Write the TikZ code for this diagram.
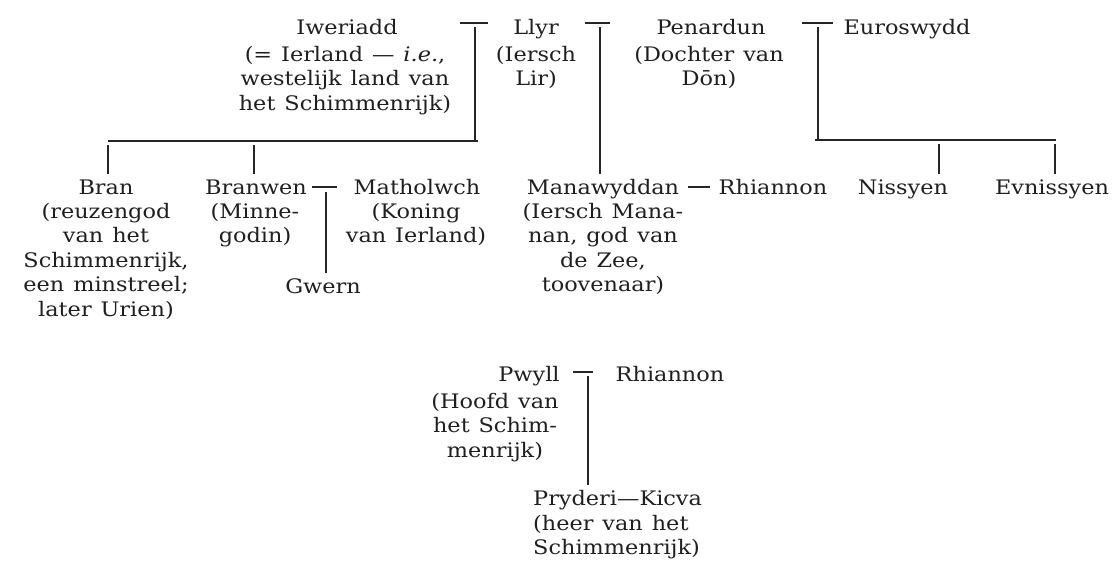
\documentclass[tikz,border=0pt]{standalone}
\usepackage{fontspec}
\setmainfont{DejaVu Serif}[FakeStretch=1.12,WordSpace=1.25]
\usetikzlibrary{calc}
\begin{document}
\begin{tikzpicture}[x=1pt,y=-1pt,
  every node/.style={font=\fontsize{20}{24.5}\selectfont, text=black!88},
  pname/.style={anchor=base, inner xsep=2pt, inner ysep=5pt},
  desc/.style={anchor=north, align=center, inner sep=0pt},
  descl/.style={anchor=north west, align=left, inner sep=0pt},
  link/.style={draw=black!85, line width=1.1pt}]
\useasboundingbox (0,0) rectangle (1116,560);
% ---- top generation
\node[pname] (iwer) at (347,34) {Iweriadd};
\node[desc] (iwerD) at (345,46) {(= Ierland — \textit{i.e.},\\westelijk land van\\het Schimmenrijk)};
\node[pname] (llyr) at (536,34) {Llyr};
\node[desc] (llyrD) at (536,46) {(Iersch\\Lir)};
\node[pname] (pen) at (711,34) {Penardun};
\node[desc] (penD) at (709,46) {(Dochter van\\Dōn)};
\node[pname] (euro) at (907,34) {Euroswydd};
% ---- children
\node[pname] (bran) at (106,194) {Bran};
\node[desc] (branD) at (106,203) {(reuzengod\\van het\\Schimmenrijk,\\een minstreel;\\later Urien)};
\node[pname] (branwen) at (256,194) {Branwen};
\node[desc] (branwenD) at (255,203) {(Minne-\\godin)};
\node[pname] (math) at (417,194) {Matholwch};
\node[desc] (mathD) at (416,203) {(Koning\\van Ierland)};
\node[pname] (gwern) at (323,293) {Gwern};
\node[pname] (mana) at (603,194) {Manawyddan};
\node[desc] (manaD) at (603,203) {(Iersch Mana-\\nan, god van\\de Zee,\\toovenaar)};
\node[pname] (rhi1) at (773,194) {Rhiannon};
\node[pname] (nis) at (903,194) {Nissyen};
\node[pname] (evn) at (1052,194) {Evnissyen};
% ---- Pwyll
\node[pname] (pwyll) at (529,381) {Pwyll};
\node[desc] (pwyllD) at (495,393) {(Hoofd van\\het Schim-\\menrijk)};
\node[pname] (rhi2) at (670,381) {Rhiannon};
\node[pname, anchor=base west, inner xsep=0pt] (pry) at (533,505) {Pryderi—Kicva};
\node[descl] (pryD) at (533,515) {(heer van het\\Schimmenrijk)};
% ---- marriage marks and descent lines
\coordinate (s1) at (475,23);
\coordinate (s2) at (600,23);
\coordinate (s3) at (818,23);
\coordinate (s4) at (326,187);
\coordinate (s5) at (588,372);
\coordinate (barL) at (108,141);
\coordinate (barLend) at (478,141);
\coordinate (barR) at (815,140);
\coordinate (barRend) at (1056,140);
\coordinate (jBw) at (254,141);
\coordinate (jNis) at (939,140);
\draw[link] ($(s1)+(-15,0)$) -- ($(s1)+(13,0)$);
\draw[link] ($(s2)+(-15,0)$) -- ($(s2)+(10,0)$);
\draw[link] ($(s3)+(-16,0)$) -- ($(s3)+(15,0)$);
\draw[link] ($(s4)+(-14,0)$) -- ($(s4)+(11,0)$);
\draw[link] ($(s5)+(-15,0)$) -- ($(s5)+(5,0)$);
\draw[link] ($(s1)+(0,4)$) -- (s1 |- barL);
\draw[link] (barL) -- (barLend);
\draw[link] ($(barL)+(0,4)$) -- (barL |- bran.north);
\draw[link] ($(jBw)+(0,4)$) -- (jBw |- branwen.north);
\draw[link] ($(s2)+(0,4)$) -- (s2 |- mana.north);
\draw[link] ($(s3)+(0,4)$) -- (s3 |- barR);
\draw[link] (barR) -- (barRend);
\draw[link] ($(jNis)+(0,4)$) -- (jNis |- nis.north);
\draw[link] ($(barRend)+(-1,4)$) -- ($(barRend |- evn.north)+(-1,0)$);
\draw[link] ($(s4)+(0,5)$) -- (s4 |- gwern.north);
\draw[link] ($(mana.base east)+(7,-7)$) -- ($(rhi1.base west)+(-7,-7)$);
\draw[link] ($(s5)+(0,4)$) -- (s5 |- pry.north);
\end{tikzpicture}
\end{document}
